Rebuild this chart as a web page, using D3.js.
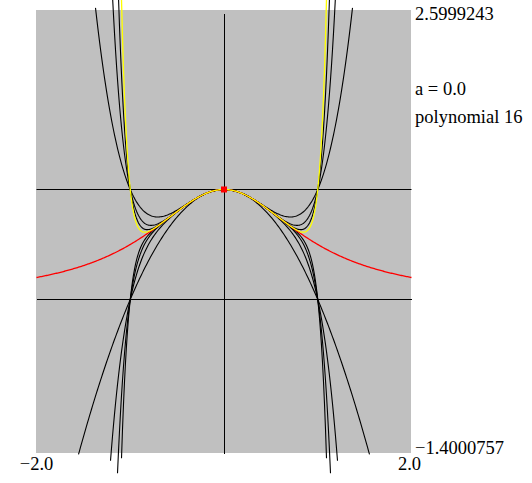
<!doctype html>
<html>
  <head>
    <meta charset="utf-8" />
    <title>Taylor polynomials of 1/(1+x^2)</title>
    <script type="text/javascript" src="https://cdnjs.cloudflare.com/ajax/libs/d3/7.8.5/d3.min.js"></script>
    <style>
      body {
        margin:0;
        background:#fff;
      }
      .chart > svg {
        display:block;
      }
    </style>
  </head>
  <body>
    <div class="chart"></div>
    <script type="text/javascript">

/*window shown by the plotter*/
var x_domain = [-2.0, 2.0];
var y_domain = [-1.4000757, 2.5999243];

/*expansion point and Taylor coefficients c0..c16 of f(x) = 1/(1+x^2) about a*/
var centre_a = 0.0;
var coefficients = [1, 0, -1, 0, 1, 0, -1, 0, 1, 0, -1, 0, 1, 0, -1, 0, 1];

/*partial sums drawn in black, and the one picked out in yellow*/
var black_degrees = [0, 2, 4, 6, 8, 10, 12, 14];
var highlight_degree = 16;

/*labels*/
var x_tick_labels = ["\u22122.0", "2.0"];
var y_tick_labels = ["2.5999243", "\u22121.4000757"];
var info_labels = ["a = 0.0", "polynomial 16"];

var g = {};
g.width = 532;
g.height = 483;
g.font = "'Liberation Serif', 'DejaVu Serif', serif";

function main() {

  g.svg = d3.select(".chart").append("svg")
    .attr("width", g.width)
    .attr("height", g.height);

  g.x = d3.scaleLinear().domain(x_domain).range([36.5, 411.5]);
  g.y = d3.scaleLinear().domain(y_domain).range([453.5, 13.5]);

  draw_frame();

  /*black partial sums first, then the function, then the chosen polynomial*/
  black_degrees.forEach(function(deg) {
    draw_curve(poly(deg), "#000", 1.1);
  });
  draw_curve(f, "#ff0000", 1.3);
  draw_curve(poly(highlight_degree), "#ffff00", 1.3);

  /*marker at the expansion point*/
  g.svg.append("rect")
    .attr("x", g.x(centre_a) - 3)
    .attr("y", g.y(f(centre_a)) - 3)
    .attr("width", 6)
    .attr("height", 6)
    .attr("fill", "#ff0000");

  draw_labels();
}

/*the function being approximated*/
function f(x) {
  return 1 / (1 + x * x);
}

/*partial sum of the Taylor series up to the given degree*/
function poly(deg) {
  return function(x) {
    var s = 0;
    for (var k = deg; k >= 0; k--) {
      s = s * (x - centre_a) + coefficients[k];
    }
    return s;
  };
}

function draw_frame() {
  var {svg, x, y} = g;

  svg.append("rect")
    .attr("x", 36)
    .attr("y", 10)
    .attr("width", 375)
    .attr("height", 443)
    .attr("fill", "#c0c0c0");

  /*x axis and y axis*/
  svg.append("line")
    .attr("x1", x(x_domain[0])).attr("x2", x(x_domain[1]))
    .attr("y1", y(0)).attr("y2", y(0))
    .attr("stroke", "#000")
    .attr("shape-rendering", "crispEdges");
  svg.append("line")
    .attr("x1", x(0)).attr("x2", x(0))
    .attr("y1", y(y_domain[1])).attr("y2", y(y_domain[0]))
    .attr("stroke", "#000")
    .attr("shape-rendering", "crispEdges");
}

/*sample once per pixel; keep points inside the window plus the
  first point past each edge, like the original plotter does*/
function draw_curve(fn, colour, width) {
  var {svg, x, y} = g;

  var px = d3.range(x.range()[0], x.range()[1] + 0.01, 1);
  var pts = px.map(function(p) {
    var xv = x.invert(p);
    return [xv, fn(xv)];
  });
  var inside = pts.map(function(d) {
    return d[1] >= y_domain[0] && d[1] <= y_domain[1];
  });
  pts.forEach(function(d, i) {
    d.keep = inside[i] || (i > 0 && inside[i - 1]) || (i < pts.length - 1 && inside[i + 1]);
  });

  var line = d3.line()
    .defined(function(d) { return d.keep; })
    .x(function(d) { return x(d[0]); })
    .y(function(d) { return y(d[1]); });

  svg.append("path")
    .datum(pts)
    .attr("d", line)
    .attr("fill", "none")
    .attr("stroke", colour)
    .attr("stroke-width", width);
}

function add_text(px, py, s, anchor) {
  g.svg.append("text")
    .attr("x", px)
    .attr("y", py)
    .attr("font-family", g.font)
    .attr("font-size", "18.5px")
    .attr("fill", "#000")
    .attr("text-anchor", anchor || "start")
    .text(s);
}

function draw_labels() {
  var {x} = g;

  add_text(415, 20, y_tick_labels[0]);
  add_text(415, 454, y_tick_labels[1]);

  add_text(415, 95, info_labels[0]);
  add_text(415, 122.5, info_labels[1]);

  add_text(x(x_domain[0]), 470, x_tick_labels[0], "middle");
  add_text(x(x_domain[1]) - 2, 470, x_tick_labels[1], "middle");
}

document.addEventListener("DOMContentLoaded", main);

    </script>
  </body>
</html>
